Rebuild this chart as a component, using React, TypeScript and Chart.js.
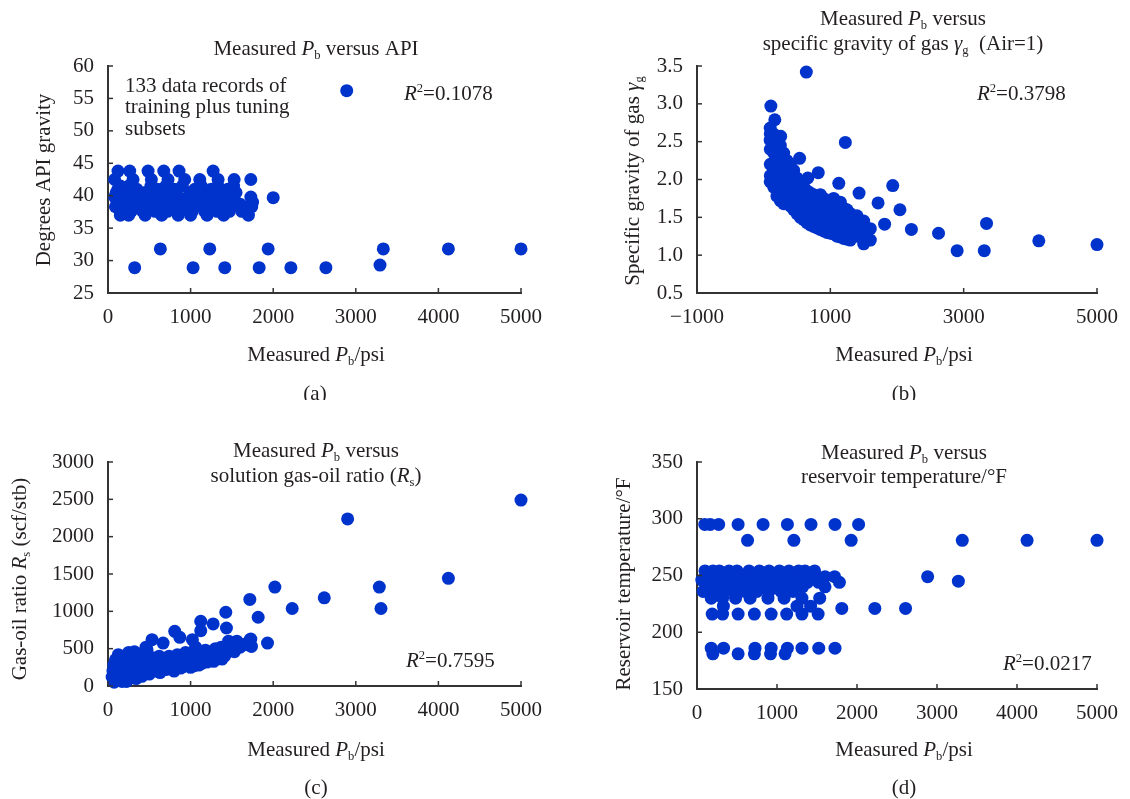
import React, { useEffect, useRef } from "react";
import { Chart, registerables } from "chart.js";

Chart.register(...registerables);

const FONT = '"Liberation Serif", "Times New Roman", Times, serif';
const INK = "#231f20";
const AXIS = "#333333";
const DOT = "#0033cc";
const FS = 21;

// ---------------- Panel (a): Measured Pb versus API ----------------
// API gravity levels (rows) and the Pb values in each row
const apiLevels = [43.8, 42.5, 41.5, 41, 40.5, 40, 39.8, 39, 38.7, 38.3, 37.6, 37];
const apiPbByLevel = [
  [121, 263, 485, 675, 860, 1273],
  [80, 303, 525, 727, 929, 1111, 1333, 1527, 1729],
  [150, 250, 520, 700, 900, 1130, 1330, 1520],
  [120, 350, 600, 800, 1050, 1250, 1450],
  [100, 200, 300, 450, 600, 800, 1000, 1200, 1400, 1550],
  [130, 260, 380, 520, 680, 830, 980, 1130, 1280, 1430],
  [80, 180, 280, 400, 550, 700, 850, 1000, 1150, 1300, 1450, 1729],
  [120, 230, 350, 500, 650, 800, 950, 1100, 1250, 1400, 1550, 1750],
  [140, 260, 380, 530, 680, 830, 980, 1130, 1280, 1430, 1600],
  [90, 200, 320, 450, 600, 750, 900, 1050, 1200, 1350, 1500, 1650, 1740],
  [150, 280, 420, 570, 720, 870, 1020, 1170, 1320, 1470, 1620],
  [150, 250, 450, 650, 850, 1000, 1200, 1400, 1700],
];
const apiOutlierPb = [2890, 2000, 634, 1232, 1939, 3333, 4121, 5000, 323, 1030, 1414, 1830, 2214, 2638, 3293];
const apiOutlierVal = [56.2, 39.7, 31.8, 31.8, 31.8, 31.8, 31.8, 31.8, 28.9, 28.9, 28.9, 28.9, 28.9, 28.9, 29.3];

// ---------------- Panel (b): Measured Pb versus gas specific gravity ----------------
const sgColumnPb = [100, 150, 200, 250, 300, 350, 400, 450, 500, 550, 600, 650, 700, 750, 800, 850, 900, 950, 1000, 1050, 1100, 1150, 1200, 1250, 1300, 1400, 1500, 1600];
const sgColumnVals = [
  [2.6, 2.4, 2.2, 2.05],
  [2.6, 2.35, 2.1, 1.9],
  [2.5, 2.25, 2.0, 1.78],
  [2.45, 2.25, 2.05, 1.85, 1.72],
  [2.35, 2.15, 1.95, 1.78, 1.68],
  [2.25, 2.05, 1.88, 1.72],
  [2.2, 2.0, 1.82, 1.65],
  [2.12, 1.95, 1.78, 1.6],
  [2.02, 1.88, 1.72, 1.55],
  [1.95, 1.8, 1.65, 1.5],
  [1.9, 1.75, 1.6, 1.47],
  [1.85, 1.7, 1.55, 1.43],
  [1.82, 1.67, 1.52, 1.4],
  [1.8, 1.65, 1.5, 1.38],
  [1.78, 1.62, 1.47, 1.36],
  [1.8, 1.6, 1.45, 1.34],
  [1.75, 1.58, 1.44, 1.32],
  [1.72, 1.56, 1.42, 1.3],
  [1.7, 1.55, 1.4, 1.29],
  [1.75, 1.6, 1.45, 1.28],
  [1.68, 1.52, 1.38, 1.25],
  [1.7, 1.55, 1.4, 1.24],
  [1.62, 1.48, 1.35, 1.22],
  [1.6, 1.45, 1.32, 1.21],
  [1.55, 1.42, 1.3, 1.2],
  [1.52, 1.38, 1.25],
  [1.45, 1.3, 1.15],
  [1.35, 1.2],
];
const sgOutlierPb = [640, 1225, 108, 1936, 1716, 2044, 1431, 1814, 2216, 2623, 2902, 3309, 3343, 4127, 5000, 1127, 819, 662, 539, 167, 255, 98, 98, 98];
const sgOutlierVal = [3.42, 2.49, 2.97, 1.92, 1.69, 1.6, 1.82, 1.41, 1.34, 1.29, 1.06, 1.06, 1.42, 1.19, 1.14, 1.95, 2.09, 2.02, 2.28, 2.79, 2.57, 2.68, 2.52, 1.97];

// ---------------- Panel (c): Measured Pb versus solution gas-oil ratio ----------------
const rsPb = [
  50, 60, 70, 80, 90, 100, 110, 120, 130, 140, 150, 160, 170, 180, 190, 200, 210, 220, 230, 240, 250, 260, 280, 290, 300, 310, 330, 350, 370, 390, 410, 430, 450, 470,
  500, 520, 560, 600, 630, 660, 700, 720, 760, 800, 820, 850, 880, 900, 930, 960, 1000, 1020, 1050, 1080,
  1100, 1120, 1150, 1180, 1200, 1230, 1260, 1300, 1320, 1350, 1380, 1400, 1430, 1460, 1480, 1500, 1530, 1560, 1600, 1650, 1700, 1720,
  75, 125, 175, 225, 265, 320, 340, 380, 420, 460, 540, 580, 620, 680, 740, 780, 840, 870, 910, 940, 980, 1040, 1060, 1130, 1170, 1220, 1280, 1330, 1370, 1410, 1450, 1520, 1580,
  2901, 5000, 4121, 3285, 3305, 2020, 2230, 2618, 1717, 1818, 1426, 1931, 1123, 1123, 1273, 1434, 808, 869, 667, 533, 473, 1022, 1729, 1737,
];
const rsVal = [
  120, 200, 280, 150, 350, 80, 250, 180, 320, 120, 400, 230, 60, 150, 300, 100, 380, 200, 130, 270, 450, 180, 330, 120, 250, 400, 170, 300, 200, 350, 130, 250, 180, 300,
  160, 260, 200, 300, 180, 260, 220, 330, 260, 200, 350, 300, 240, 400, 320, 280, 250, 380, 320, 450,
  280, 400, 350, 480, 320, 420, 370, 500, 400, 460, 360, 520, 440, 600, 500, 550, 460, 600, 520, 560, 550, 620,
  50, 420, 330, 60, 380, 460, 100, 420, 380, 520, 380, 320, 400, 350, 400, 330, 420, 260, 260, 450, 350, 270, 520, 300, 400, 350, 330, 380, 520, 400, 480, 500, 550,
  2237, 2490, 1442, 1325, 1038, 1325, 1038, 1181, 1159, 921, 988, 575, 867, 741, 831, 777, 732, 652, 575, 620, 485, 620, 629, 530,
];

// ---------------- Panel (d): Measured Pb versus reservoir temperature ----------------
const tempLevels = [295, 281, 254, 251, 249, 246, 245, 244, 242, 240, 236, 230, 223, 221, 216, 186, 181];
const tempPbByLevel = [
  [97, 166, 271, 514, 826, 1130, 1425, 1725, 2020],
  [632, 1211, 1927, 3316, 4126, 5000],
  [100, 200, 280, 400, 500, 650, 780, 900, 1030, 1150, 1270, 1350, 1470],
  [120, 330, 520, 740, 980, 1180, 1400],
  [150, 250, 350, 450, 560, 700, 820, 950, 1080, 1200, 1320, 1450, 1600, 1720, 2883],
  [60, 270, 480, 690, 880, 1100, 1300],
  [3267],
  [100, 200, 300, 420, 540, 660, 780, 900, 1020, 1140, 1260, 1380, 1520, 1780],
  [170, 390, 620, 850, 1060],
  [130, 240, 360, 480, 600, 720, 840, 960, 1080, 1200, 1320, 1600],
  [77, 180, 300, 450, 600, 750, 900, 1050, 1200],
  [178, 320, 482, 664, 887, 1089, 1312, 1534],
  [330, 1250, 1420],
  [1810, 2223, 2607],
  [190, 320, 514, 717, 927, 1121, 1312, 1514],
  [178, 332, 725, 927, 1130, 1312, 1522, 1725],
  [198, 514, 717, 919, 1101],
];

// ---------------- helpers ----------------
type Pt = { x: number; y: number };
const fromLevels = (levels: number[], xs: number[][]): Pt[] =>
  levels.flatMap((lv, i) => xs[i].map((x) => ({ x, y: lv })));
const fromPairs = (xs: number[], ys: number[]): Pt[] => xs.map((x, i) => ({ x, y: ys[i] }));
const fromColumns = (xs: number[], ys: number[][]): Pt[] =>
  xs.flatMap((x, i) => ys[i].map((y) => ({ x, y })));

type Seg = { t: string; i?: boolean; sub?: boolean; sup?: boolean };
type TextItem = { segs: Seg[]; x: number; y: number; align?: "left" | "center"; rotate?: boolean };

const segFont = (s: Seg, size: number) =>
  `${s.i ? "italic " : ""}${s.sub || s.sup ? size * 0.6 : size}px ${FONT}`;

function drawRich(ctx: CanvasRenderingContext2D, item: TextItem, size = FS) {
  ctx.save();
  ctx.fillStyle = INK;
  ctx.textBaseline = "alphabetic";
  ctx.textAlign = "left";
  let total = 0;
  const widths = item.segs.map((s) => {
    ctx.font = segFont(s, size);
    const w = ctx.measureText(s.t).width;
    total += w;
    return w;
  });
  ctx.translate(item.x, item.y);
  if (item.rotate) ctx.rotate(-Math.PI / 2);
  let x = item.align === "left" ? 0 : -total / 2;
  const base = size * 0.33;
  item.segs.forEach((s, k) => {
    ctx.font = segFont(s, size);
    const dy = s.sub ? size * 0.2 : s.sup ? -size * 0.4 : 0;
    ctx.fillText(s.t, x, base + dy);
    x += widths[k];
  });
  ctx.restore();
}

const makeDecor = (texts: TextItem[]) => ({
  id: "panelDecor",
  afterDraw(chart: any) {
    const ctx: CanvasRenderingContext2D = chart.ctx;
    const { left, bottom } = chart.chartArea;
    const xs = chart.scales.x;
    const ys = chart.scales.y;
    ctx.save();
    ctx.strokeStyle = AXIS;
    ctx.lineWidth = 1.5;
    xs.ticks.forEach((t: any) => {
      const p = xs.getPixelForValue(t.value);
      ctx.beginPath();
      ctx.moveTo(p, bottom);
      ctx.lineTo(p, bottom - 5);
      ctx.stroke();
    });
    ys.ticks.forEach((t: any) => {
      const p = ys.getPixelForValue(t.value);
      ctx.beginPath();
      ctx.moveTo(left, p);
      ctx.lineTo(left + 5, p);
      ctx.stroke();
    });
    ctx.restore();
    texts.forEach((it) => drawRich(ctx, it));
  },
});

const fmtNum = (v: number) => String(v).replace("-", "\u2212");

type PanelCfg = {
  points: Pt[];
  xMin: number; xMax: number; xStep: number;
  yMin: number; yMax: number; yStep: number;
  yFmt: (v: number) => string;
  area: { L: number; R: number; T: number; B: number };
  texts: TextItem[];
  w: number; h: number;
};

const measuredPb: Seg[] = [{ t: "Measured " }, { t: "P", i: true }, { t: "b", sub: true }, { t: "/psi" }];
const titleStart: Seg[] = [{ t: "Measured " }, { t: "P", i: true }, { t: "b", sub: true }, { t: " versus" }];

const panels: (PanelCfg & { left: number; top: number })[] = [
  {
    left: 0, top: 0, w: 565, h: 400,
    points: [...fromLevels(apiLevels, apiPbByLevel), ...fromPairs(apiOutlierPb, apiOutlierVal)],
    xMin: 0, xMax: 5000, xStep: 1000, yMin: 25, yMax: 60, yStep: 5, yFmt: (v) => String(v),
    area: { L: 108, R: 521, T: 66, B: 293 },
    texts: [
      { segs: [...titleStart, { t: " API" }], x: 316, y: 48 },
      { segs: [{ t: "Degrees API gravity" }], x: 43, y: 180, rotate: true },
      { segs: measuredPb, x: 316, y: 354 },
      { segs: [{ t: "(a)" }], x: 315, y: 393 },
      { segs: [{ t: "133 data records of" }], x: 125, y: 85, align: "left" },
      { segs: [{ t: "training plus tuning" }], x: 125, y: 106, align: "left" },
      { segs: [{ t: "subsets" }], x: 125, y: 128, align: "left" },
      { segs: [{ t: "R", i: true }, { t: "2", sup: true }, { t: "=0.1078" }], x: 404, y: 93, align: "left" },
    ],
  },
  {
    left: 565, top: 0, w: 565, h: 400,
    points: [...fromColumns(sgColumnPb, sgColumnVals), ...fromPairs(sgOutlierPb, sgOutlierVal)],
    xMin: -1000, xMax: 5000, xStep: 2000, yMin: 0.5, yMax: 3.5, yStep: 0.5, yFmt: (v) => v.toFixed(1),
    area: { L: 132, R: 542, T: 66, B: 293 },
    texts: [
      { segs: titleStart, x: 338, y: 18 },
      { segs: [{ t: "specific gravity of gas " }, { t: "\u03b3", i: true }, { t: "g", sub: true }, { t: "  (Air=1)" }], x: 338, y: 43 },
      { segs: [{ t: "Specific gravity of gas " }, { t: "\u03b3", i: true }, { t: "g", sub: true }], x: 67, y: 181, rotate: true },
      { segs: measuredPb, x: 339, y: 354 },
      { segs: [{ t: "(b)" }], x: 339, y: 393 },
      { segs: [{ t: "R", i: true }, { t: "2", sup: true }, { t: "=0.3798" }], x: 412, y: 93, align: "left" },
    ],
  },
  {
    left: 0, top: 400, w: 565, h: 399,
    points: fromPairs(rsPb, rsVal),
    xMin: 0, xMax: 5000, xStep: 1000, yMin: 0, yMax: 3000, yStep: 500, yFmt: (v) => String(v),
    area: { L: 108, R: 521, T: 62, B: 286 },
    texts: [
      { segs: titleStart, x: 316, y: 50 },
      { segs: [{ t: "solution gas-oil ratio (" }, { t: "R", i: true }, { t: "s", sub: true }, { t: ")" }], x: 316, y: 75 },
      { segs: [{ t: "Gas-oil ratio " }, { t: "R", i: true }, { t: "s", sub: true }, { t: " (scf/stb)" }], x: 19, y: 179, rotate: true },
      { segs: measuredPb, x: 316, y: 349 },
      { segs: [{ t: "(c)" }], x: 316, y: 387 },
      { segs: [{ t: "R", i: true }, { t: "2", sup: true }, { t: "=0.7595" }], x: 406, y: 260, align: "left" },
    ],
  },
  {
    left: 565, top: 400, w: 565, h: 399,
    points: fromLevels(tempLevels, tempPbByLevel),
    xMin: 0, xMax: 5000, xStep: 1000, yMin: 150, yMax: 350, yStep: 50, yFmt: (v) => String(v),
    area: { L: 132, R: 543, T: 62, B: 289 },
    texts: [
      { segs: titleStart, x: 339, y: 52 },
      { segs: [{ t: "reservoir temperature/\u00b0F" }], x: 339, y: 76 },
      { segs: [{ t: "Reservoir temperature/\u00b0F" }], x: 58, y: 184, rotate: true },
      { segs: measuredPb, x: 339, y: 349 },
      { segs: [{ t: "(d)" }], x: 339, y: 387 },
      { segs: [{ t: "R", i: true }, { t: "2", sup: true }, { t: "=0.0217" }], x: 438, y: 263, align: "left" },
    ],
  },
];

function buildConfig(cfg: PanelCfg): any {
  const tickFont = { family: FONT, size: FS };
  return {
    type: "scatter",
    data: {
      datasets: [
        {
          data: cfg.points,
          pointRadius: 6.5,
          pointHoverRadius: 6.5,
          pointBackgroundColor: DOT,
          pointBorderWidth: 0,
          borderWidth: 0,
          clip: false,
        },
      ],
    },
    options: {
      animation: false,
      responsive: false,
      maintainAspectRatio: false,
      events: [],
      layout: { padding: { top: cfg.area.T, right: cfg.w - cfg.area.R, left: 0, bottom: 0 } },
      plugins: { legend: { display: false }, tooltip: { enabled: false }, title: { display: false } },
      scales: {
        x: {
          type: "linear",
          min: cfg.xMin,
          max: cfg.xMax,
          ticks: {
            stepSize: cfg.xStep,
            color: INK,
            font: tickFont,
            padding: 12,
            maxRotation: 0,
            autoSkip: false,
            callback: (v: number) => fmtNum(v),
          },
          grid: { display: false, drawTicks: false },
          border: { display: true, color: AXIS, width: 2 },
          afterFit: (s: any) => {
            s.height = cfg.h - cfg.area.B;
          },
        },
        y: {
          type: "linear",
          min: cfg.yMin,
          max: cfg.yMax,
          ticks: {
            stepSize: cfg.yStep,
            color: INK,
            font: tickFont,
            padding: 14,
            autoSkip: false,
            callback: (v: number) => cfg.yFmt(v),
          },
          grid: { display: false, drawTicks: false },
          border: { display: true, color: AXIS, width: 2 },
          afterFit: (s: any) => {
            s.width = cfg.area.L;
          },
        },
      },
    },
    plugins: [makeDecor(cfg.texts)],
  };
}

function Panel({ cfg }: { cfg: PanelCfg & { left: number; top: number } }) {
  const ref = useRef<HTMLCanvasElement>(null);
  useEffect(() => {
    const chart = new Chart(ref.current as HTMLCanvasElement, buildConfig(cfg));
    return () => chart.destroy();
  }, []);
  return (
    <canvas
      ref={ref}
      width={cfg.w}
      height={cfg.h}
      style={{ position: "absolute", left: cfg.left, top: cfg.top, width: cfg.w, height: cfg.h }}
    />
  );
}

export default function App() {
  return (
    <div style={{ position: "absolute", left: 0, top: 0, width: 1130, height: 799, background: "#fff" }}>
      {panels.map((p, i) => (
        <Panel key={i} cfg={p} />
      ))}
    </div>
  );
}
